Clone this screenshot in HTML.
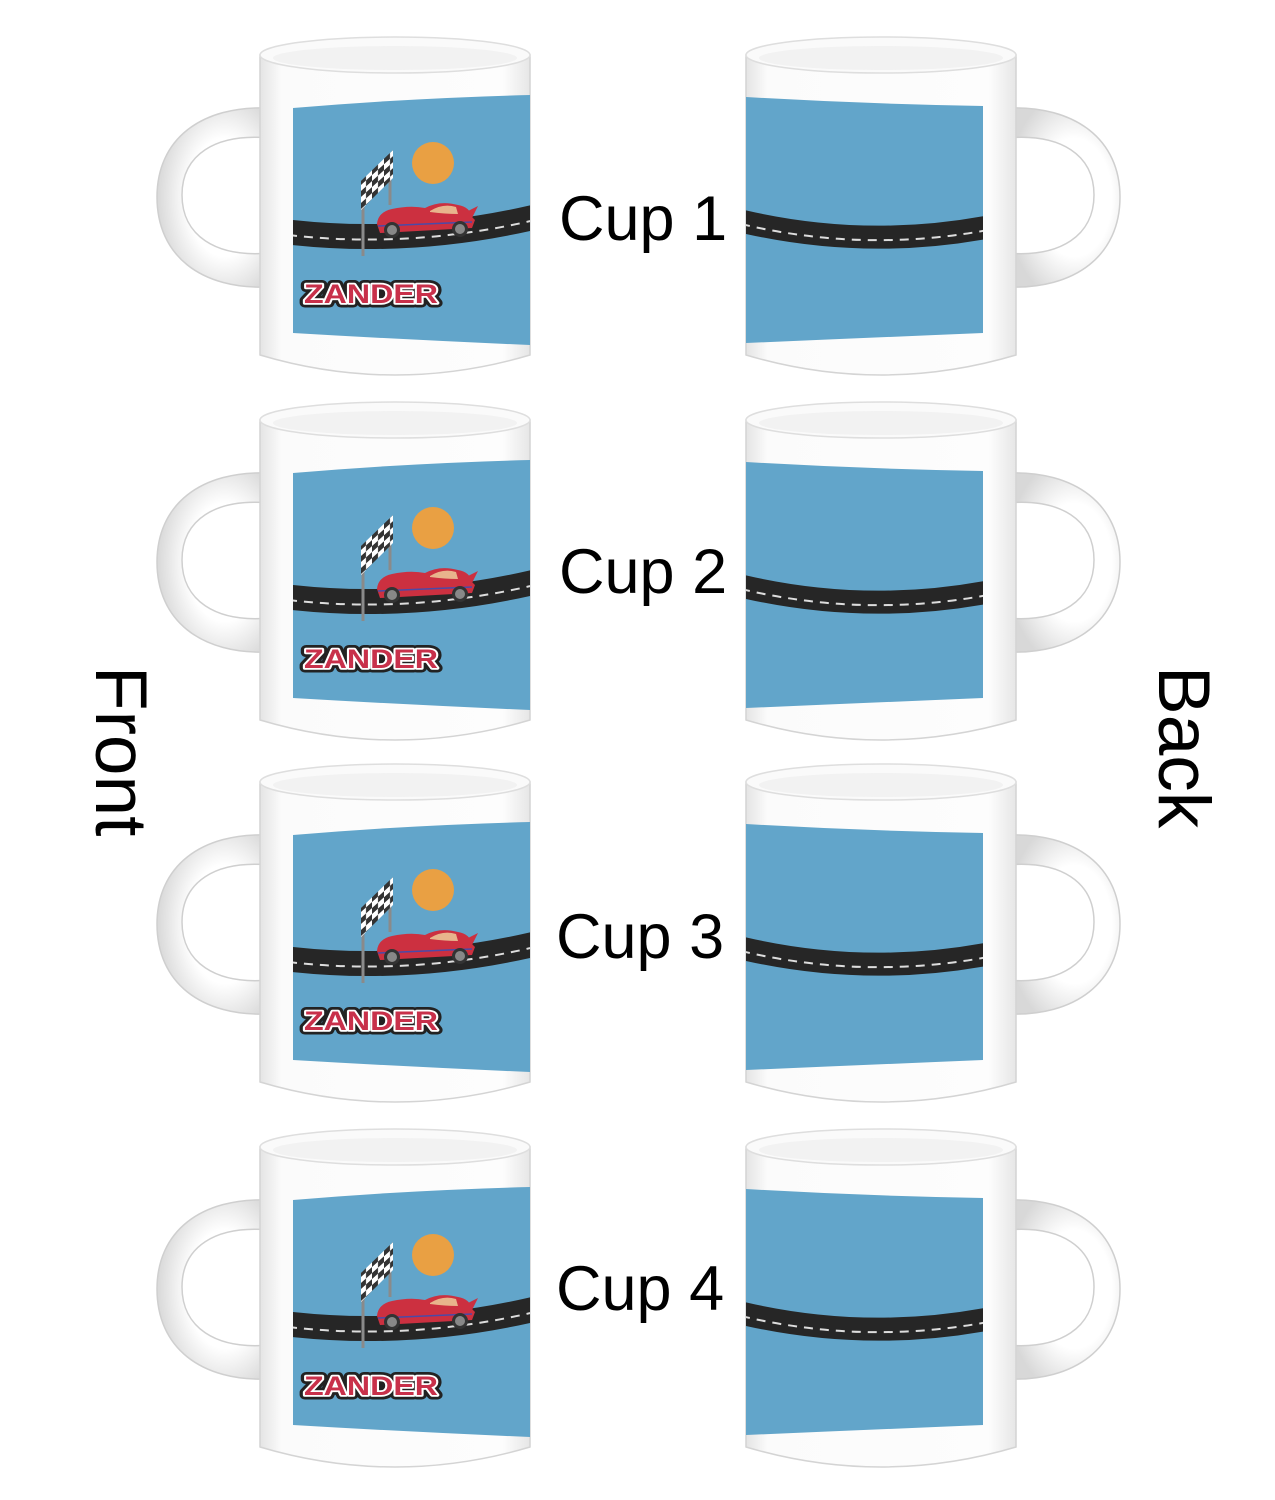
<!DOCTYPE html>
<html><head><meta charset="utf-8"><style>
html,body{margin:0;padding:0;background:#fff;}
svg{display:block;}
text{font-family:"Liberation Sans",sans-serif;}
</style></head><body>
<svg width="1275" height="1500" viewBox="0 0 1275 1500" xmlns="http://www.w3.org/2000/svg">
<defs>
<pattern id="chk" width="12" height="12" patternUnits="userSpaceOnUse" patternTransform="skewY(-42)">
<rect width="12" height="12" fill="#fff"/><rect width="6" height="6" fill="#333"/><rect x="6" y="6" width="6" height="6" fill="#333"/>
</pattern>
<linearGradient id="bg" x1="0" x2="1" y1="0" y2="0">
<stop offset="0" stop-color="#e4e4e4"/><stop offset="0.08" stop-color="#fbfbfb"/><stop offset="0.9" stop-color="#fdfdfd"/><stop offset="1" stop-color="#e6e6e6"/>
</linearGradient>
<radialGradient id="hgl" cx="0.6" cy="0.5" r="0.6"><stop offset="0.55" stop-color="#ffffff"/><stop offset="1" stop-color="#d8d8d8"/></radialGradient>
<clipPath id="cf"><rect x="293" y="90" width="237" height="260"/></clipPath>
<clipPath id="cb"><rect x="746" y="90" width="237" height="260"/></clipPath>
<g id="front">
  <path fill-rule="evenodd" fill="url(#hgl)" stroke="#cfcfcf" stroke-width="1.5" d="M270,108 C200,105 157,140 157,197 C157,255 200,290 270,287 L270,253 C215,258 182,235 182,195 C182,155 215,133 270,138 Z"/>
  <path d="M260,55 L260,355 Q395,395 530,355 L530,55 Z" fill="url(#bg)" stroke="#d4d4d4" stroke-width="1.5"/>
  <ellipse cx="395" cy="55" rx="135" ry="18" fill="#fafafa" stroke="#dedede" stroke-width="1.5"/>
  <ellipse cx="395" cy="58" rx="122" ry="12" fill="#f2f2f2"/>
  <path d="M293,108 Q411,98 530,95 L530,345 Q411,340 293,333 Z" fill="#62a5ca"/>
  <g clip-path="url(#cf)">
  <path d="M288,232 Q411,246 535,217" fill="none" stroke="#262626" stroke-width="25"/>
  <path d="M288,235 Q411,249 535,220" fill="none" stroke="#ddd" stroke-width="2" stroke-dasharray="9 7"/>
  </g>
  <circle cx="433" cy="163" r="21" fill="#e9a043"/>
  <line x1="363" y1="180" x2="363" y2="256" stroke="#8a8a8a" stroke-width="3"/>
  <line x1="390" y1="155" x2="390" y2="205" stroke="#8a8a8a" stroke-width="3"/>
  <polygon points="361,181 393,150 393,178 361,210" fill="url(#chk)"/>
  <path d="M377,224 Q378,212 392,209 Q410,205 425,208 Q440,200 458,205 Q470,207 472,217 L475,220 L472,228 L380,233 Z" fill="#cc3040"/>
  <path d="M430,211 Q443,203 456,207 L458,214 Q445,214 430,212 Z" fill="#e8b48c"/>
  <path d="M466,212 L478,206 L472,218 Z" fill="#cc3040"/>
  <line x1="378" y1="226" x2="472" y2="222" stroke="#4a4aa8" stroke-width="1.5"/>
  <circle cx="392" cy="230" r="8" fill="#333"/><circle cx="392" cy="230" r="5" fill="#888"/>
  <circle cx="460" cy="229" r="8" fill="#333"/><circle cx="460" cy="229" r="5" fill="#888"/>
  <text x="304" y="303" font-family="Liberation Serif" font-weight="bold" font-size="27" textLength="134" lengthAdjust="spacingAndGlyphs" fill="#222" stroke="#222" stroke-width="9" stroke-linejoin="round">ZANDER</text>
  <text x="304" y="303" font-family="Liberation Serif" font-weight="bold" font-size="27" textLength="134" lengthAdjust="spacingAndGlyphs" fill="#c8304a" stroke="#fff" stroke-width="3.5" stroke-linejoin="round" paint-order="stroke">ZANDER</text>
</g>
<g id="back">
  <path fill-rule="evenodd" fill="url(#hgl)" stroke="#cfcfcf" stroke-width="1.5" d="M1006,108 C1076,105 1120,140 1120,197 C1120,255 1076,290 1006,287 L1006,253 C1061,258 1094,235 1094,195 C1094,155 1061,133 1006,138 Z"/>
  <path d="M746,55 L746,355 Q881,395 1016,355 L1016,55 Z" fill="url(#bg)" stroke="#d4d4d4" stroke-width="1.5"/>
  <ellipse cx="881" cy="55" rx="135" ry="18" fill="#fafafa" stroke="#dedede" stroke-width="1.5"/>
  <ellipse cx="881" cy="58" rx="122" ry="12" fill="#f2f2f2"/>
  <path d="M746,97 Q864,104 983,106 L983,333 Q864,338 746,343 Z" fill="#62a5ca"/>
  <g clip-path="url(#cb)">
  <path d="M741,221 Q864,250 988,227" fill="none" stroke="#262626" stroke-width="23"/>
  <path d="M741,224 Q864,253 988,230" fill="none" stroke="#ddd" stroke-width="2" stroke-dasharray="9 7"/>
  </g>
</g>
</defs>
<use href="#front"/><use href="#back"/>
<use href="#front" y="365"/><use href="#back" y="365"/>
<use href="#front" y="727"/><use href="#back" y="727"/>
<use href="#front" y="1092"/><use href="#back" y="1092"/>
<text x="559" y="240" font-size="63" fill="#000">Cup 1</text>
<text x="559" y="593" font-size="63" fill="#000">Cup 2</text>
<text x="556" y="958" font-size="63" fill="#000">Cup 3</text>
<text x="556" y="1310" font-size="63" fill="#000">Cup 4</text>
<text transform="translate(96,666) rotate(90)" font-size="73" fill="#000">Front</text>
<text transform="translate(1159,666) rotate(90)" font-size="73" fill="#000">Back</text>
</svg>
</body></html>
